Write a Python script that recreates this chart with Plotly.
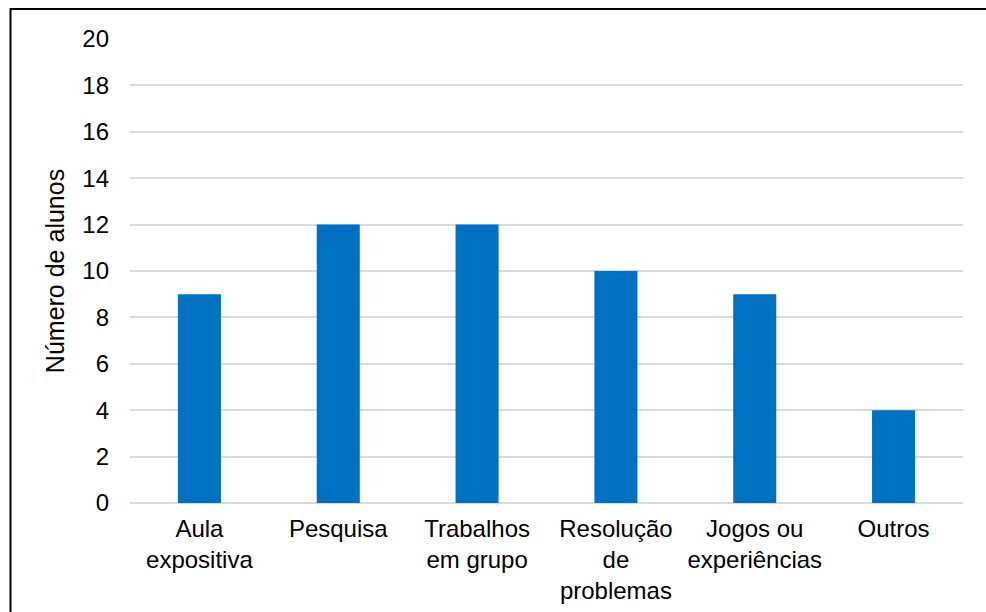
import plotly.graph_objects as go

# Survey: preferred teaching approaches
categories = [
    "Aula<br>expositiva",
    "Pesquisa",
    "Trabalhos<br>em grupo",
    "Resolução<br>de<br>problemas",
    "Jogos ou<br>experiências",
    "Outros",
]
students = [9, 12, 12, 10, 9, 4]
y_ticks = list(range(0, 21, 2))
y_title = "Número de alunos"

W, H = 986, 612
ML, MR, MT, MB = 130, 23, 39, 109
plot_w = W - ML - MR
plot_h = H - MT - MB

fig = go.Figure(
    go.Bar(
        x=categories,
        y=students,
        marker=dict(color="#0070C0", line=dict(width=0)),
        hoverinfo="x+y",
    )
)

font_family = "Liberation Sans, Arial, sans-serif"

fig.update_layout(
    width=W,
    height=H,
    margin=dict(l=ML, r=MR, t=MT, b=MB, autoexpand=False),
    paper_bgcolor="white",
    plot_bgcolor="white",
    bargap=0.69,
    showlegend=False,
    font=dict(family=font_family, size=24, color="#000000"),
    xaxis=dict(
        showgrid=False,
        showline=False,
        ticks="",
        tickfont=dict(size=24),
        ticklabelstandoff=9,
        automargin=False,
    ),
    yaxis=dict(
        range=[0, 20],
        tickvals=y_ticks,
        showgrid=True,
        gridcolor="#D9D9D9",
        gridwidth=1.6,
        zeroline=True,
        zerolinecolor="#D9D9D9",
        zerolinewidth=1.6,
        showline=False,
        ticks="",
        tickfont=dict(size=24),
        ticklabelstandoff=20,
        automargin=False,
        title=dict(text=y_title, font=dict(size=25), standoff=10),
    ),
)

# Frame around the chart (top and left edges visible)
px_to_x = lambda px: (px - ML) / plot_w
px_to_y = lambda py: (H - MB - py) / plot_h
fig.add_shape(
    type="rect",
    xref="paper",
    yref="paper",
    x0=px_to_x(10.5),
    x1=px_to_x(W + 10),
    y0=px_to_y(H + 10),
    y1=px_to_y(9),
    line=dict(color="#000000", width=2),
    fillcolor="rgba(0,0,0,0)",
    layer="above",
)

fig.write_html("out.html")
